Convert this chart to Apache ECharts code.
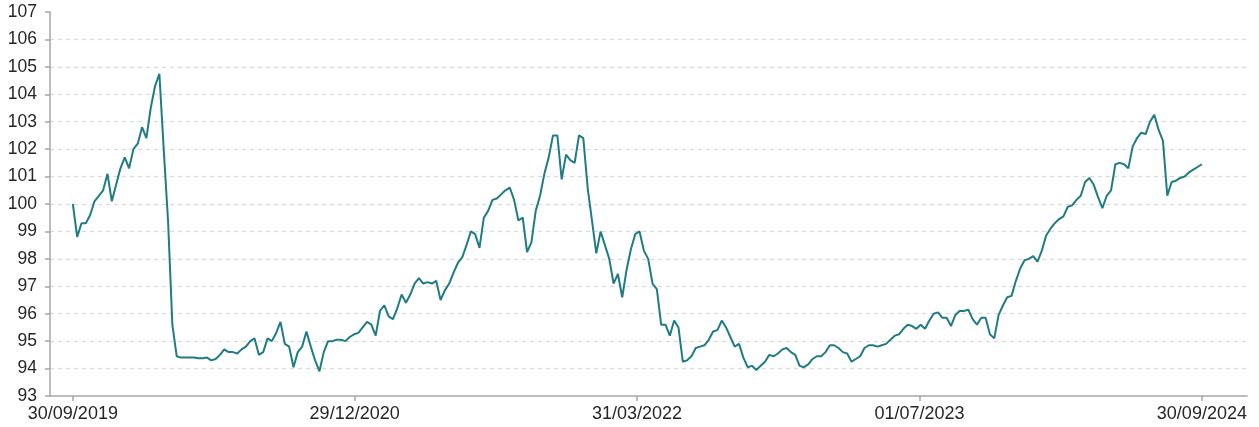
<!DOCTYPE html>
<html>
<head>
<meta charset="utf-8">
<script src="https://cdn.jsdelivr.net/npm/echarts@6/dist/echarts.min.js"></script>
<style>
html,body{margin:0;padding:0;background:#fff;}
#c{width:1259px;height:427px;}
</style>
</head>
<body>
<div id="c"></div>
<script>
// Weekly observations starting 30/09/2019
const startDate = '2019-09-30';
const weeklyValues = [
100.0,98.8,99.3,99.3,99.6,100.1,100.3,100.5,101.1,100.1,
100.7,101.3,101.7,101.3,102.0,102.2,102.8,102.4,103.5,104.3,
104.75,102.0,99.4,95.6,94.45,94.4,94.4,94.4,94.4,94.38,
94.38,94.4,94.3,94.35,94.5,94.7,94.6,94.6,94.55,94.7,
94.8,95.0,95.1,94.5,94.6,95.1,95.0,95.3,95.7,94.9,
94.8,94.05,94.6,94.8,95.35,94.8,94.3,93.9,94.6,95.0,
95.0,95.05,95.05,95.0,95.15,95.25,95.3,95.5,95.7,95.6,
95.2,96.1,96.3,95.9,95.8,96.2,96.7,96.4,96.7,97.1,
97.3,97.1,97.15,97.1,97.2,96.5,96.85,97.1,97.5,97.85,
98.05,98.5,99.0,98.9,98.4,99.5,99.75,100.15,100.2,100.35,
100.5,100.6,100.15,99.4,99.5,98.25,98.6,99.75,100.3,101.1,
101.7,102.5,102.5,100.9,101.8,101.6,101.5,102.5,102.4,100.6,
99.4,98.2,99.0,98.5,98.0,97.1,97.45,96.6,97.6,98.35,
98.9,99.0,98.3,98.0,97.1,96.9,95.6,95.6,95.2,95.75,
95.5,94.25,94.3,94.45,94.75,94.8,94.85,95.05,95.35,95.4,
95.75,95.5,95.15,94.8,94.9,94.4,94.05,94.1,93.95,94.1,
94.25,94.5,94.45,94.55,94.7,94.75,94.6,94.5,94.1,94.05,
94.15,94.35,94.45,94.45,94.6,94.85,94.85,94.75,94.6,94.55,
94.25,94.35,94.45,94.75,94.85,94.85,94.8,94.85,94.9,95.05,
95.2,95.25,95.45,95.6,95.55,95.45,95.6,95.45,95.75,96.0,
96.05,95.85,95.85,95.55,95.95,96.1,96.1,96.15,95.8,95.6,
95.85,95.85,95.25,95.1,95.95,96.3,96.6,96.65,97.2,97.65,
97.95,98.0,98.1,97.9,98.3,98.85,99.1,99.3,99.45,99.55,
99.9,99.95,100.15,100.3,100.8,100.95,100.7,100.25,99.85,100.3,
100.5,101.45,101.5,101.45,101.3,102.1,102.4,102.6,102.55,103.0,
103.25,102.7,102.3,100.3,100.8,100.85,100.95,101.0,101.15,101.25,
101.35,101.45
];
const xTickLabels = ['2019-09-30','2020-12-29','2022-03-31','2023-07-01','2024-09-30'];
const yTicks = [93,94,95,96,97,98,99,100,101,102,103,104,105,106,107];

function toUTC(s){const p=s.split('-').map(Number);return Date.UTC(p[0],p[1]-1,p[2]);}
const DAY = 86400000;
const t0 = toUTC(startDate);
const seriesData = weeklyValues.map((v,i)=>[t0 + i*7*DAY, v]);
const xTickValues = xTickLabels.map(toUTC);

function fmt(v){
  const d=new Date(v);
  const dd=String(d.getUTCDate()).padStart(2,'0');
  const mm=String(d.getUTCMonth()+1).padStart(2,'0');
  return dd+'/'+mm+'/'+d.getUTCFullYear();
}

const chart = echarts.init(document.getElementById('c'), null, {renderer:'canvas'});
chart.setOption({
  animation:false,
  backgroundColor:'#ffffff',
  grid:{left:50,right:12,top:12,bottom:31,containLabel:false},
  xAxis:{
    type:'value',
    min: toUTC('2019-08-24'),
    max: toUTC('2024-12-12'),
    scale:true,
    axisLine:{show:true,lineStyle:{color:'#a6a6a6',width:1.5}},
    axisTick:{show:true,length:5,lineStyle:{color:'#a6a6a6',width:1.5},customValues:xTickValues},
    axisLabel:{
      customValues:xTickValues,
      formatter:fmt,
      color:'#262626',
      fontSize:18,
      fontFamily:'Liberation Sans, Arial, sans-serif',
      margin:9,
      showMinLabel:true,
      showMaxLabel:true
    },
    splitLine:{show:false}
  },
  yAxis:{
    type:'value',
    min:yTicks[0],
    max:yTicks[yTicks.length-1],
    interval:1,
    axisLine:{show:true,lineStyle:{color:'#a6a6a6',width:1.5}},
    axisTick:{show:true,length:5,lineStyle:{color:'#a6a6a6',width:1.5}},
    axisLabel:{
      color:'#262626',
      fontSize:17.5,
      fontFamily:'Liberation Sans, Arial, sans-serif',
      margin:13
    },
    splitLine:{show:true,showMinLine:false,showMaxLine:false,lineStyle:{color:'#d9d9d9',type:[4,4],width:1.2}}
  },
  series:[{
    type:'line',
    data:seriesData,
    showSymbol:false,
    symbol:'none',
    lineStyle:{color:'#1f7c84',width:2},
    itemStyle:{color:'#1f7c84'}
  }]
});
</script>
</body>
</html>
